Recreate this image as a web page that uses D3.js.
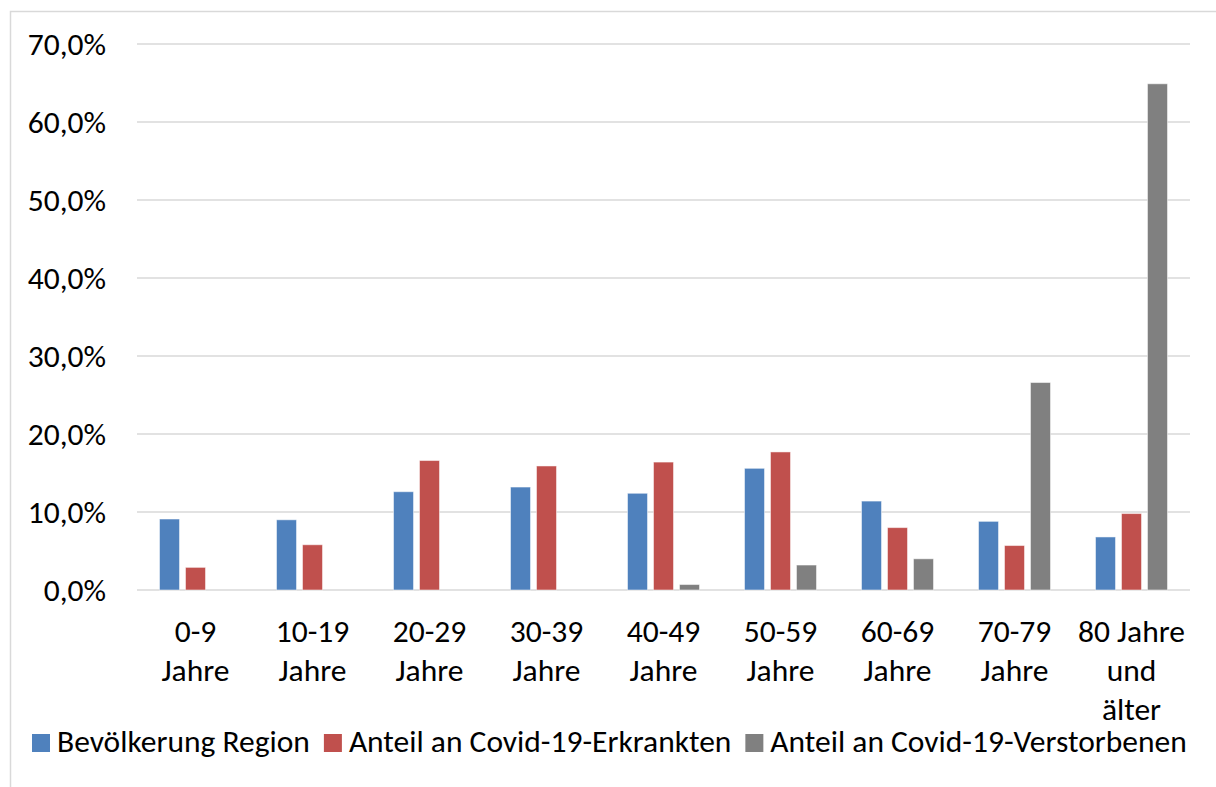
<!doctype html>
<html lang="de">
<head>
<meta charset="UTF-8">
<title>Covid-19 Altersverteilung</title>
<script src="https://cdn.jsdelivr.net/npm/d3@7"></script>
<style>
    body { margin: 0; background: #fff; }
    text { font-family: Carlito, Calibri, 'Noto Sans', sans-serif; fill: #000; }
    .grid line { stroke: #d9d9d9; stroke-width: 1.5px; }
</style>
</head>
<body>
<script>
// age groups, each label split into lines like the original
const categories = ['0-9', '10-19', '20-29', '30-39', '40-49', '50-59', '60-69', '70-79', '80+'];
const categoryLines = [
    ['0-9', 'Jahre'], ['10-19', 'Jahre'], ['20-29', 'Jahre'], ['30-39', 'Jahre'],
    ['40-49', 'Jahre'], ['50-59', 'Jahre'], ['60-69', 'Jahre'], ['70-79', 'Jahre'],
    ['80 Jahre', 'und', 'älter']
];
const seriesNames = ['Bevölkerung Region', 'Anteil an Covid-19-Erkrankten', 'Anteil an Covid-19-Verstorbenen'];
const seriesColors = ['#4f81bd', '#c0504d', '#808080'];

// shares in percent
const bevoelkerung = [9.1, 9.0, 12.6, 13.2, 12.4, 15.6, 11.4, 8.8, 6.8];
const erkrankte    = [2.9, 5.8, 16.6, 15.9, 16.4, 17.7, 8.0, 5.7, 9.8];
const verstorbene  = [0, 0, 0, 0, 0.7, 3.2, 4.0, 26.6, 64.9];
const yTicks = [0, 10, 20, 30, 40, 50, 60, 70];

const width = 1216, height = 787;
const margin = {top: 44, left: 137, right: 26, bottom: 197};
const fontSize = 31.5;

const de = d3.formatLocale({decimal: ',', thousands: '.', grouping: [3], currency: ['', ' €']});
const pct = de.format('.1%');

const svg = d3.select('body').append('svg')
    .attr('width', width)
    .attr('height', height);

// chart area border
svg.append('rect')
    .attr('x', 10.5).attr('y', 11.5)
    .attr('width', 1230).attr('height', 820)
    .attr('fill', 'none')
    .attr('stroke', '#d9d9d9')
    .attr('stroke-width', 1.5);

const x0 = d3.scaleBand()
    .domain(categories)
    .range([margin.left, width - margin.right]);

const x1 = d3.scaleBand()
    .domain(seriesNames)
    .range([22.5, x0.bandwidth() - 22.5])
    .paddingInner(0.23);

const y = d3.scaleLinear()
    .domain([0, 70])
    .range([height - margin.bottom, margin.top]);

// gridlines
svg.append('g')
    .attr('class', 'grid')
    .selectAll('line')
    .data(yTicks)
    .enter().append('line')
    .attr('x1', margin.left)
    .attr('x2', width - margin.right)
    .attr('y1', d => y(d))
    .attr('y2', d => y(d));

// y labels
svg.append('g')
    .selectAll('text')
    .data(yTicks)
    .enter().append('text')
    .attr('x', 106)
    .attr('y', d => y(d))
    .attr('dy', '0.34em')
    .attr('text-anchor', 'end')
    .attr('font-size', fontSize)
    .text(d => pct(d / 100));

const table = categories.map((c, i) => ({
    cat: c,
    values: [bevoelkerung[i], erkrankte[i], verstorbene[i]]
}));

const group = svg.selectAll('.grp')
    .data(table)
    .enter().append('g')
    .attr('class', 'grp')
    .attr('transform', d => `translate(${x0(d.cat)},0)`);

group.selectAll('rect')
    .data(d => d.values.map((v, k) => ({name: seriesNames[k], value: v, color: seriesColors[k]})))
    .enter().append('rect')
    .filter(d => d.value > 0)
    .attr('x', d => x1(d.name))
    .attr('width', x1.bandwidth())
    .attr('y', d => y(d.value))
    .attr('height', d => y(0) - y(d.value))
    .attr('fill', d => d.color)
    .attr('stroke', '#fff')
    .attr('stroke-opacity', 0.5)
    .attr('stroke-width', 1);

// category labels
const catLabel = svg.append('g')
    .selectAll('text')
    .data(categories)
    .enter().append('text')
    .attr('text-anchor', 'middle')
    .attr('font-size', fontSize)
    .attr('x', d => x0(d) + x0.bandwidth() / 2)
    .attr('y', 642);

catLabel.selectAll('tspan')
    .data((d, i) => categoryLines[i])
    .enter().append('tspan')
    .attr('x', function() { return this.parentNode.getAttribute('x'); })
    .attr('y', (d, j) => 642 + j * 39)
    .text(d => d);

// legend
const legend = svg.append('g');
let lx = 32;
seriesNames.forEach((name, k) => {
    legend.append('rect')
        .attr('x', lx).attr('y', 734)
        .attr('width', 18).attr('height', 18)
        .attr('fill', seriesColors[k]);
    const t = legend.append('text')
        .attr('x', lx + 25).attr('y', 752)
        .attr('font-size', fontSize)
        .text(name);
    lx += 25 + t.node().getComputedTextLength() + 14;
});
</script>
</body>
</html>
